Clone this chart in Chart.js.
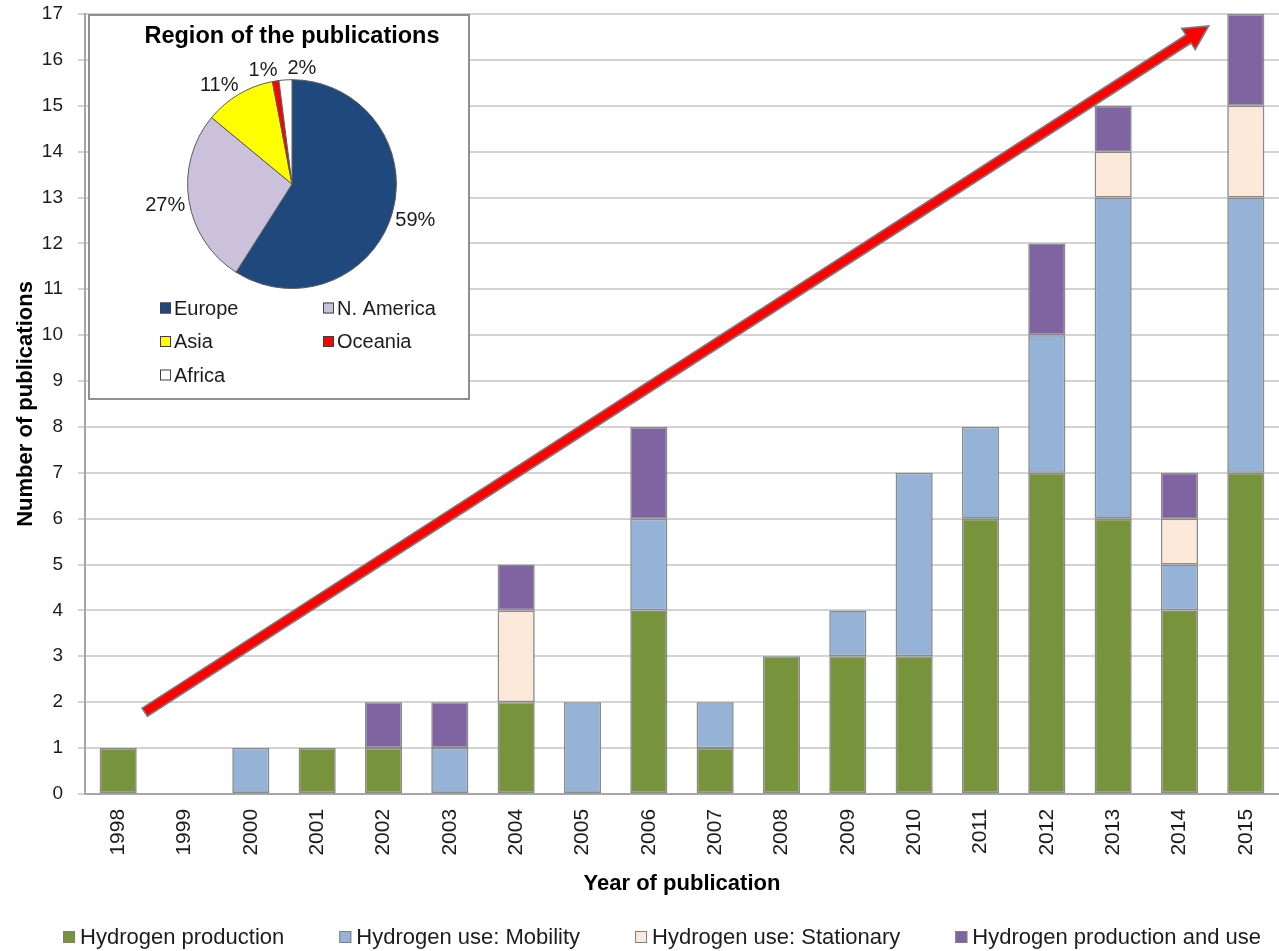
<!DOCTYPE html>
<html>
<head>
<meta charset="utf-8">
<title>Publications per year</title>
<script src="https://cdn.jsdelivr.net/npm/chart.js@4.4.1/dist/chart.umd.min.js"></script>
<style>
  html, body { margin: 0; padding: 0; background: #fff; overflow: hidden; width: 1279px; height: 951px; }
  #main { position: absolute; left: 0; top: 0; width: 1286px; height: 951px; }
  #inset { position: absolute; left: 88px; top: 14px; width: 382px; height: 386px;
           border: 2px solid #8f8f8f; box-sizing: border-box; background: #fff; }
</style>
</head>
<body>
<div id="main"><canvas id="bars"></canvas></div>
<div id="inset"><canvas id="pie"></canvas></div>
<script>
// ---- data ----
const years = ['1998','1999','2000','2001','2002','2003','2004','2005','2006',
               '2007','2008','2009','2010','2011','2012','2013','2014','2015'];
const seriesNames = ['Hydrogen production', 'Hydrogen use: Mobility',
                     'Hydrogen use: Stationary', 'Hydrogen production and use'];
const hydrogenProduction = [1,0,0,1,1,0,2,0,4,1,3,3,3,6,7,6,4,7];
const hydrogenMobility   = [0,0,1,0,0,1,0,2,2,1,0,1,4,2,3,7,1,6];
const hydrogenStationary = [0,0,0,0,0,0,2,0,0,0,0,0,0,0,0,1,1,2];
const productionAndUse   = [0,0,0,0,1,1,1,0,2,0,0,0,0,0,2,1,1,2];
const yAxisMax = 17;

const regions = ['Europe', 'N. America', 'Asia', 'Oceania', 'Africa'];
const regionShares = [59, 27, 11, 1, 2];

// growth trend arrow, in (category index, publications) units
const trendArrow = [{ x: 0.4, y: 1.78 }, { x: 16.44, y: 16.74 }];

// ---- styling ----
const FONT = '"Liberation Sans", Arial, sans-serif';
const TEXT = '#1c1c1c';
Chart.defaults.font.family = FONT;
Chart.defaults.color = TEXT;

const seriesColors = ['#77933C', '#95B3D7', '#FDE9D9', '#8064A2'];
const regionColors = ['#1F497D', '#CCC1DA', '#FFFF00', '#FF0000', '#FFFFFF'];
const BAR_EDGE = '#8a8a8a';

// red trend arrow drawn through the chart scales
const trendArrowPlugin = {
  id: 'trendArrow',
  afterDatasetsDraw(chart) {
    const { ctx, scales: { x, y } } = chart;
    const a = { x: x.getPixelForValue(trendArrow[0].x), y: y.getPixelForValue(trendArrow[0].y) };
    const b = { x: x.getPixelForValue(trendArrow[1].x), y: y.getPixelForValue(trendArrow[1].y) };
    const len = Math.hypot(b.x - a.x, b.y - a.y);
    const ux = (b.x - a.x) / len, uy = (b.y - a.y) / len;
    const nx = -uy, ny = ux;
    const shaft = 4.8, head = 12.5, headLen = 24;
    const bx = b.x - ux * headLen, by = b.y - uy * headLen;
    ctx.save();
    ctx.beginPath();
    ctx.moveTo(a.x + nx * shaft, a.y + ny * shaft);
    ctx.lineTo(bx + nx * shaft, by + ny * shaft);
    ctx.lineTo(bx + nx * head, by + ny * head);
    ctx.lineTo(b.x, b.y);
    ctx.lineTo(bx - nx * head, by - ny * head);
    ctx.lineTo(bx - nx * shaft, by - ny * shaft);
    ctx.lineTo(a.x - nx * shaft, a.y - ny * shaft);
    ctx.closePath();
    ctx.fillStyle = '#FF0000';
    ctx.fill();
    ctx.lineWidth = 1.6;
    ctx.strokeStyle = '#7a7a7a';
    ctx.lineJoin = 'miter';
    ctx.stroke();
    ctx.restore();
  }
};

// single-row series legend under the axis title
const seriesLegendPlugin = {
  id: 'seriesLegend',
  afterDraw(chart, args, opts) {
    const { ctx } = chart;
    const ds = chart.data.datasets;
    ctx.save();
    ctx.font = `${opts.fontSize}px ${FONT}`;
    const widths = ds.map(d => opts.box + opts.textGap + ctx.measureText(d.label).width);
    const total = widths.reduce((s, w) => s + w, 0) + opts.itemGap * (ds.length - 1);
    let x = opts.centerX - total / 2;
    const y = opts.centerY;
    ds.forEach((d, i) => {
      ctx.fillStyle = d.backgroundColor;
      ctx.fillRect(x, y - opts.box / 2, opts.box, opts.box);
      ctx.strokeStyle = '#7f7f7f';
      ctx.lineWidth = 1;
      ctx.strokeRect(x + 0.5, y - opts.box / 2 + 0.5, opts.box - 1, opts.box - 1);
      ctx.fillStyle = TEXT;
      ctx.textBaseline = 'middle';
      ctx.textAlign = 'left';
      ctx.fillText(d.label, x + opts.box + opts.textGap, y + 1);
      x += widths[i] + opts.itemGap;
    });
    ctx.restore();
  }
};

const seriesData = [hydrogenProduction, hydrogenMobility, hydrogenStationary, productionAndUse];

new Chart(document.getElementById('bars'), {
  type: 'bar',
  data: {
    labels: years,
    datasets: seriesData.map((values, i) => ({
      label: seriesNames[i],
      data: values,
      backgroundColor: seriesColors[i],
      borderColor: BAR_EDGE,
      borderWidth: 1.6,
      borderSkipped: false
    }))
  },
  options: {
    responsive: true,
    maintainAspectRatio: false,
    animation: false,
    layout: { padding: { top: 14, right: 0, bottom: 54, left: 0 } },
    datasets: { bar: { categoryPercentage: 1, barPercentage: 0.56 } },
    plugins: {
      legend: { display: false },
      tooltip: { enabled: false },
      seriesLegend: { fontSize: 22, box: 12, textGap: 5, itemGap: 55, centerX: 662, centerY: 937 }
    },
    scales: {
      x: {
        stacked: true,
        offset: true,
        grid: { display: false, drawTicks: false },
        border: { display: true, color: '#a6a6a6', width: 2 },
        ticks: { font: { size: 21 }, color: TEXT, minRotation: 90, maxRotation: 90,
                 padding: 15, autoSkip: false },
        title: { display: true, text: 'Year of publication', color: '#000',
                 font: { size: 22, weight: 'bold' }, padding: { top: 0, bottom: 0 } }
      },
      y: {
        stacked: true,
        min: 0,
        max: yAxisMax,
        ticks: { stepSize: 1, font: { size: 19 }, color: TEXT, padding: 15 },
        grid: { color: '#d3d3d3', lineWidth: 2, tickLength: 7 },
        border: { color: '#a6a6a6', width: 2 },
        title: { display: true, text: 'Number of publications', color: '#000',
                 font: { size: 22, weight: 'bold' }, padding: { top: 13, bottom: 0 } },
        afterFit(scale) {
          scale.width = 85;
          // the top label only needs its own half height above the plot
          scale.paddingTop = 0;
          scale.paddingBottom = 0;
        }
      }
    }
  },
  plugins: [trendArrowPlugin, seriesLegendPlugin]
});

// percentage labels outside each slice
const shareLabelsPlugin = {
  id: 'shareLabels',
  afterDatasetsDraw(chart) {
    const { ctx } = chart;
    const arcs = chart.getDatasetMeta(0).data;
    ctx.save();
    ctx.font = `20px ${FONT}`;
    const h = 20;
    const items = arcs.map((arc, i) => {
      const mid = (arc.startAngle + arc.endAngle) / 2;
      const text = regionShares[i] + '%';
      const w = ctx.measureText(text).width;
      const d = arc.outerRadius + 4;
      return {
        text, w,
        cx: arc.x + Math.cos(mid) * (d + w / 2),
        cy: arc.y + Math.sin(mid) * (d + h / 2)
      };
    });
    // push apart labels that would overlap
    for (let pass = 0; pass < 20; pass++) {
      for (let i = 0; i < items.length; i++) {
        for (let j = i + 1; j < items.length; j++) {
          const A = items[i], B = items[j];
          const minDx = (A.w + B.w) / 2 + 10;
          const dx = B.cx - A.cx;
          if (Math.abs(dx) < minDx && Math.abs(B.cy - A.cy) < h) {
            const shift = (minDx - Math.abs(dx)) / 2;
            const s = dx >= 0 ? 1 : -1;
            A.cx -= s * shift;
            B.cx += s * shift;
          }
        }
      }
    }
    ctx.fillStyle = TEXT;
    ctx.textAlign = 'center';
    ctx.textBaseline = 'middle';
    items.forEach(it => ctx.fillText(it.text, it.cx, it.cy + 3));
    ctx.restore();
  }
};

// two-column region legend below the pie
const regionLegendPlugin = {
  id: 'regionLegend',
  afterDraw(chart, args, opts) {
    const { ctx } = chart;
    const colors = chart.data.datasets[0].backgroundColor;
    ctx.save();
    ctx.font = `${opts.fontSize}px ${FONT}`;
    ctx.textBaseline = 'middle';
    ctx.textAlign = 'left';
    chart.data.labels.forEach((label, i) => {
      const col = i % 2, row = Math.floor(i / 2);
      const x = opts.colX[col];
      const y = opts.firstRowY + row * opts.rowStep;
      ctx.fillStyle = colors[i];
      ctx.fillRect(x, y - opts.box / 2, opts.box, opts.box);
      ctx.strokeStyle = '#404040';
      ctx.lineWidth = 1;
      ctx.strokeRect(x + 0.5, y - opts.box / 2 + 0.5, opts.box - 1, opts.box - 1);
      ctx.fillStyle = TEXT;
      ctx.fillText(label, x + opts.box + 3, y + 1);
    });
    ctx.restore();
  }
};

new Chart(document.getElementById('pie'), {
  type: 'pie',
  data: {
    labels: regions,
    datasets: [{
      data: regionShares,
      backgroundColor: regionColors,
      borderColor: '#5a5a5a',
      borderWidth: 1
    }]
  },
  options: {
    responsive: true,
    maintainAspectRatio: false,
    animation: false,
    layout: { padding: { top: 0, left: 26, right: 0, bottom: 109 } },
    plugins: {
      legend: { display: false },
      tooltip: { enabled: false },
      title: { display: true, text: 'Region of the publications', color: '#000',
               font: { size: 23.5, weight: 'bold' }, padding: { top: 6, bottom: 29 } },
      regionLegend: { fontSize: 20, box: 11, colX: [70, 233], firstRowY: 292, rowStep: 33.5 }
    }
  },
  plugins: [shareLabelsPlugin, regionLegendPlugin]
});
</script>
</body>
</html>
